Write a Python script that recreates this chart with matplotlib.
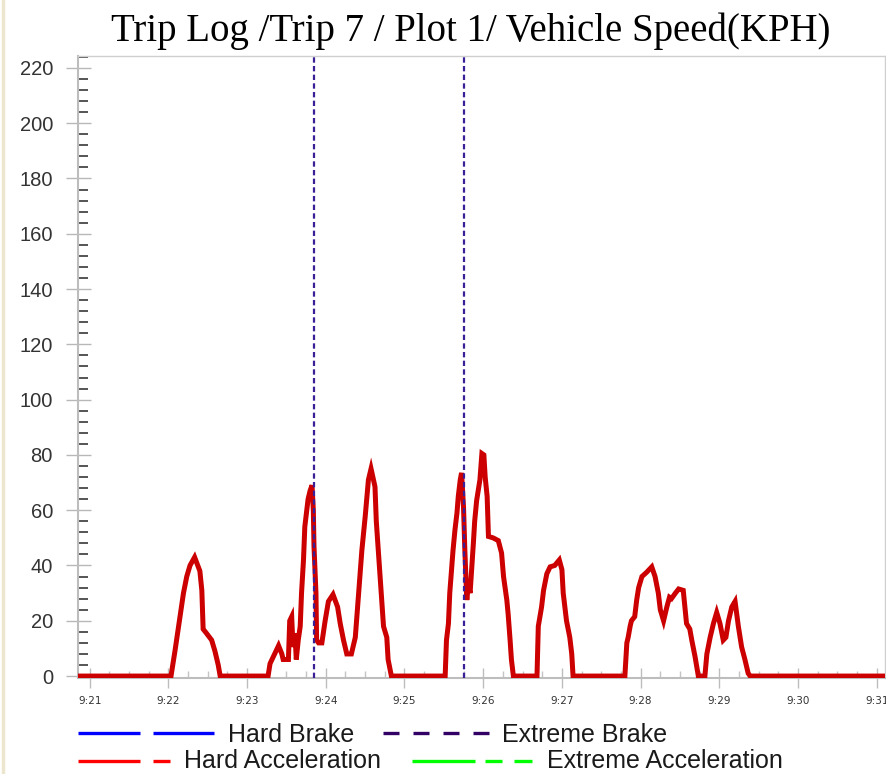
import matplotlib
matplotlib.use("Agg")
import matplotlib.pyplot as plt
import matplotlib.ticker as ticker
from matplotlib.lines import Line2D

W, H = 887, 774

# speed log: seconds after 9:21:00 and speed in KPH
time_s = [-9, 62, 65, 67.5, 70, 71.5, 74, 76.5, 80, 84, 85.5, 86.5, 89, 93, 95.5, 98, 99.5,
          136, 137.5, 141, 144, 146.5, 147.5, 151.5, 152.5, 154, 155, 156.5, 157.5, 159, 160.5,
          161.5, 163, 164, 165.5, 166.5, 168, 169.5, 170.5, 171, 172.5, 173, 174.5, 177, 179.5,
          182, 185.5, 189, 191, 193.5, 196, 199.5, 202.5, 205, 207.5, 210, 212.5, 214.5, 217.5,
          218.5, 220, 222, 224, 226.5, 227.5, 230,
          271, 272, 273.5, 274.5, 276, 277, 278.5, 280, 281, 282.5, 283.5, 285, 286, 287.5, 288.5,
          290, 291, 292.5, 293.5, 295, 297.5, 299, 300.5, 301.5, 303, 304, 307.5, 311.5, 314, 315.5,
          318, 319, 320.5, 321.5, 323,
          341, 342, 344.5, 346, 348.5, 351, 354.5, 358, 360, 361, 363.5, 366, 367.5, 368.5,
          408, 409.5, 410.5, 412, 413, 415.5, 417, 418.5, 421, 424.5, 428.5, 431, 433.5, 435,
          437.5, 440, 442, 443.5, 446.5, 449, 452.5, 455, 457.5, 459, 461.5, 463.5, 464,
          469, 470.5, 473, 475.5, 478, 480.5, 483, 485, 487, 489.5, 492, 494.5, 497, 499.5, 502, 503.5,
          606]
speed = [0, 0, 9, 17, 25, 30, 36, 40, 43, 38, 31, 17, 15.5, 13, 9, 4, 0,
         0, 4.5, 8, 11, 8, 6, 6, 20, 21.5, 10.5, 15.5, 6, 13, 18,
         30, 42, 54, 60, 64, 67, 69, 60, 47, 30, 13, 12, 12, 20,
         27, 29.5, 25, 19, 13, 8, 8, 14, 30, 45.5, 57.5, 71, 75, 68.5,
         56, 45.5, 32, 18, 14, 6, 0,
         0, 13, 19, 30, 39.5, 45.5, 53, 59, 65, 71, 73.5, 61, 45.5, 27.5, 33.5,
         30, 37, 48, 56, 63.5, 71, 80.5, 80, 72, 65, 50.5, 50, 49, 44.5,
         36, 27.5, 22.5, 13, 6, 0,
         0, 18, 25, 31, 37, 39.5, 40, 42, 38.5, 30, 20, 14, 8, 0,
         0, 12, 14, 18, 20, 21.5, 27.5, 32, 36, 37.5, 39.5, 36, 30, 24,
         20, 25, 28.5, 28, 30, 31.5, 31, 19, 17, 13, 7, 1.5, 0,
         0, 8, 14, 19, 23, 19, 13, 14, 20, 25, 27, 18, 10.5, 6, 1, 0,
         0]

brake_times = [171, 285.5]  # extreme brake events
tick_labels = ["9:21", "9:22", "9:23", "9:24", "9:25", "9:26",
               "9:27", "9:28", "9:29", "9:30", "9:31"]

fig = plt.figure(figsize=(W / 100, H / 100), dpi=100)
ax = fig.add_axes([78 / W, 1 - 678 / H, (885 - 78) / W, (678 - 56) / H])

ax.plot(time_s, speed, color="#cc0000", lw=3.6, solid_joinstyle="miter", zorder=3)
for t in brake_times:
    ax.axvline(t, color="#3b1f96", lw=1.6, dashes=(2.4, 1.5), zorder=4)

ax.set_xlim(-8.9, 606.3)
ax.set_ylim(-0.7, 224.3)

ax.xaxis.set_major_locator(ticker.MultipleLocator(60))
ax.xaxis.set_minor_locator(ticker.MultipleLocator(15))
ax.xaxis.set_major_formatter(ticker.FuncFormatter(
    lambda v, pos: tick_labels[int(round(v / 60))] if 0 <= round(v / 60) < len(tick_labels) else ""))
ax.yaxis.set_major_locator(ticker.MultipleLocator(20))
ax.yaxis.set_minor_locator(ticker.MultipleLocator(4))

for side in ["top", "right"]:
    ax.spines[side].set_color("#cfcfcf")
    ax.spines[side].set_linewidth(1.0)
for side in ["left", "bottom"]:
    ax.spines[side].set_color("#bdbdbd")
    ax.spines[side].set_linewidth(1.5)

ax.tick_params(axis="y", which="major", direction="inout", length=18, width=1,
               color="#b8b8b8", labelsize=14.5, labelcolor="#333333", pad=9)
ax.tick_params(axis="y", which="minor", direction="in", length=7, width=1.4, color="#555555")
ax.tick_params(axis="x", which="major", direction="inout", length=14, width=1,
               color="#bdbdbd", labelsize=7.5, labelcolor="#333333", pad=6)
ax.tick_params(axis="x", which="minor", direction="in", length=5, width=1, color="#c4c4c4")
for lab in ax.get_yticklabels():
    lab.set_fontfamily("Liberation Sans")
for lab in ax.get_xticklabels():
    lab.set_fontfamily("DejaVu Sans")

fig.text(471 / W, 1 - 31 / H, "Trip Log /Trip 7 / Plot 1/ Vehicle Speed(KPH)",
         family="Liberation Serif", fontsize=28, ha="center", va="center", color="black")

# thin beige strip at the left edge
fig.add_artist(Line2D([3.5 / W, 3.5 / W], [0, 1], color="#ede6cf", lw=2.5))


def seg(x0, x1, y, color, **kw):
    fig.add_artist(Line2D([x0 / W, x1 / W], [1 - y / H, 1 - y / H],
                          color=color, lw=2.4, solid_capstyle="butt", dash_capstyle="butt", **kw))


def label(x, y, s):
    fig.text(x / W, 1 - y / H, s, family="Liberation Sans", fontsize=18,
             color="#1a1a1a", ha="left", va="baseline")


# legend, first row
seg(78, 140, 733, "#0000ff")
seg(153, 214, 733, "#0000ff")
label(228, 741.5, "Hard Brake")
for x in [383, 413, 443, 473]:
    seg(x, x + 16, 733, "#330066")
label(502, 741.5, "Extreme Brake")

# legend, second row
seg(78, 140, 761, "#ff0000")
seg(153, 170, 761, "#ff0000")
label(184, 768.5, "Hard Acceleration")
seg(412, 475, 761, "#00ff00")
seg(485, 502, 761, "#00ff00")
seg(514, 532, 761, "#00ff00")
label(547, 768.5, "Extreme Acceleration")

fig.savefig("out.png", dpi=100)
